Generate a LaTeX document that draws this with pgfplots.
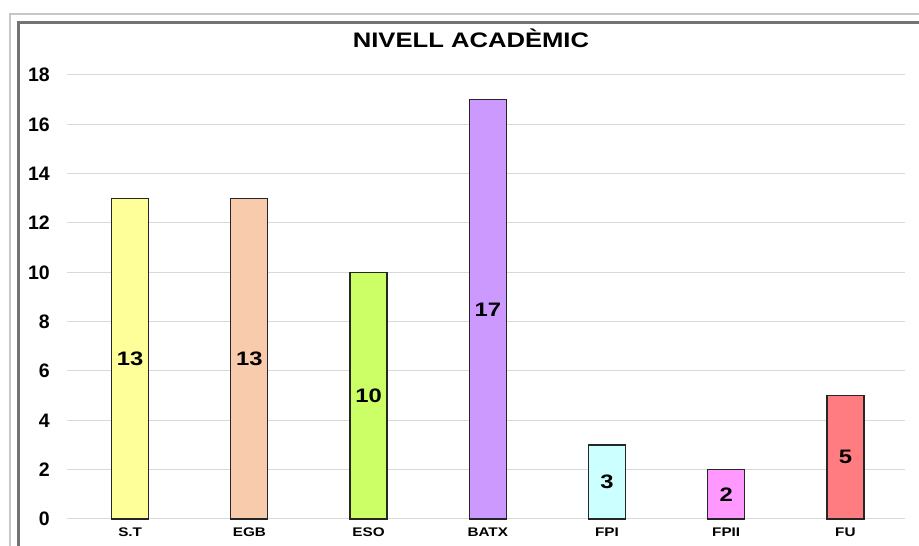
\documentclass[border=0pt]{standalone}
\usepackage{fontspec}
\setmainfont{Liberation Sans}
\newfontfamily\wide[FakeStretch=1.22]{Liberation Sans}
\usepackage{pgfplots}
\pgfplotsset{compat=1.18}
\definecolor{cST}{HTML}{FFFF99}
\definecolor{cEGB}{HTML}{F8CBAD}
\definecolor{cESO}{HTML}{CCFF66}
\definecolor{cBATX}{HTML}{CC99FF}
\definecolor{cFPI}{HTML}{CCFFFF}
\definecolor{cFPII}{HTML}{FF99FF}
\definecolor{cFU}{HTML}{FF7C80}
\begin{document}
\begin{tikzpicture}[x=1pt,y=1pt]
\useasboundingbox (0,0) rectangle (919,546);
\fill[white] (0,0) rectangle (919,546);
% frame
\draw[color=black!22, line width=2pt] (10,0) -- (10,532) -- (919,532);
\draw[color=black!55, line width=2.5pt] (18.5,0) -- (18.5,523.5) -- (919,523.5);
\begin{axis}[
  at={(67pt,27pt)}, anchor=south west,
  scale only axis, width=838pt, height=444pt,
  xmin=-0.53, xmax=6.5, ymin=0, ymax=18,
  ytick={0,2,...,18},
  xtick={0,...,6},
  xticklabels={S.T,EGB,ESO,BATX,FPI,FPII,FU},
  ymajorgrids,
  grid style={color=black!15, line width=1pt},
  axis line style={draw=none},
  major tick length=0pt,
  /pgf/number format/assume math mode=true,
  yticklabel style={font=\fontsize{19.5}{20}\selectfont\bfseries, anchor=east, inner sep=0pt, xshift=-17pt},
  xticklabel style={font=\wide\fontsize{12.5}{13}\selectfont\bfseries, anchor=north, inner sep=0pt, yshift=-9pt},
  ybar, bar width=37pt,
  every axis plot/.append style={bar shift=0pt, draw=black!85, line width=1.2pt},
  clip=false,
]
\addplot[fill=cST] coordinates {(0,13)};
\addplot[fill=cEGB] coordinates {(1,13)};
\addplot[fill=cESO] coordinates {(2,10)};
\addplot[fill=cBATX] coordinates {(3,17)};
\addplot[fill=cFPI] coordinates {(4,3)};
\addplot[fill=cFPII] coordinates {(5,2)};
\addplot[fill=cFU] coordinates {(6,5)};
\addplot[draw=none, fill=none, only marks, mark=none, point meta=explicit symbolic,
  nodes near coords,
  every node near coord/.style={anchor=center, inner sep=0pt, font=\wide\fontsize{19.5}{20}\selectfont\bfseries, text=black}]
  coordinates {(0,6.5)[13] (1,6.5)[13] (2,5)[10] (3,8.5)[17] (4,1.5)[3] (5,1)[2] (6,2.5)[5]};
\end{axis}
\node[anchor=base, inner sep=0pt, font=\wide\fontsize{21}{22}\selectfont\bfseries] at (471,498) {NIVELL ACADÈMIC};
\end{tikzpicture}
\end{document}
